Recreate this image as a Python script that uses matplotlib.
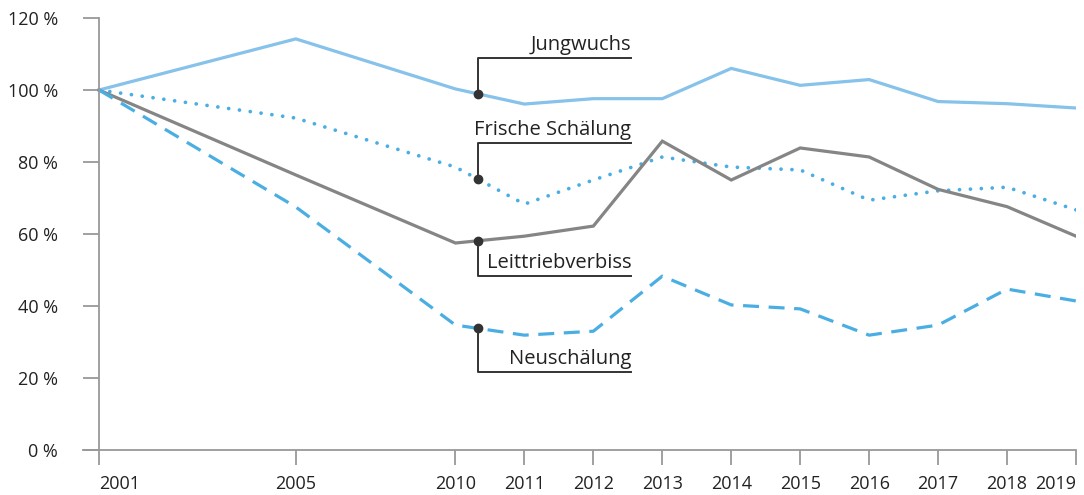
import numpy as np
import matplotlib
matplotlib.use("Agg")
import matplotlib.pyplot as plt

plt.rcParams['font.family'] = ['Open Sans', 'DejaVu Sans']

# data
years = ['2001', '2005', '2010', '2011', '2012', '2013', '2014', '2015', '2016', '2017', '2018', '2019']
# uneven spacing of the x axis, as in the original
xpos = [0, 2.855, 5.17, 6.17, 7.17, 8.17, 9.17, 10.17, 11.17, 12.17, 13.17, 14.17]

jungwuchs = [100, 114.2, 100.3, 96.1, 97.6, 97.6, 106.0, 101.3, 102.9, 96.8, 96.2, 95.0]
frische = [100, 92.2, 78.6, 68.3, 75.0, 81.4, 78.6, 77.8, 69.4, 72.0, 73.0, 66.7]
leittrieb = [100, 76.4, 57.5, 59.4, 62.2, 85.8, 75.0, 83.9, 81.4, 72.4, 67.6, 59.4]
neu = [100, 67.5, 34.7, 31.9, 33.0, 48.3, 40.3, 39.2, 31.9, 34.7, 44.7, 41.4]

labels = ['Jungwuchs', 'Frische Schälung', 'Leittriebverbiss', 'Neuschälung']
label_levels = [108.9, 85.3, 48.3, 21.7]

fig = plt.figure(figsize=(10.84, 4.95), dpi=100)
ax = fig.add_axes([83 / 1084, 0.0909, 993 / 1084, 0.8727])

lw = 2.3
ax.plot(xpos, jungwuchs, color='#86c2ea', lw=lw, solid_joinstyle='miter')
ax.plot(xpos, frische, color='#4baee3', lw=2.7, linestyle=(0, (0.01, 2.9)), dash_capstyle='round')
ax.plot(xpos, leittrieb, color='#858585', lw=lw, solid_joinstyle='miter')
ax.plot(xpos, neu, color='#4baee3', lw=lw, linestyle=(0, (5, 3)))

# callouts
xa = 5.49
xe = 7.72
for series, lab, lev in zip([jungwuchs, frische, leittrieb, neu], labels, label_levels):
    yd = np.interp(xa, xpos, series)
    ax.plot([xa, xa, xe], [yd, lev, lev], color='#333333', lw=1.4, zorder=4)
    ax.plot([xa], [yd], 'o', color='#333333', ms=6, zorder=5)
    ax.annotate(lab, (xe, lev), xytext=(0, 2), textcoords='offset points',
                ha='right', va='bottom', fontsize=14.5, color='#222222')

ax.set_xlim(-16 / 69, 14.17)
ax.set_ylim(0, 120)
ax.set_xticks(xpos)
ax.set_xticklabels(years)
ax.set_yticks(range(0, 121, 20))
ax.set_yticklabels([f'{v} %' for v in range(0, 121, 20)])

for s in ['top', 'right']:
    ax.spines[s].set_visible(False)
ax.spines['left'].set_position(('data', 0))
for s in ['left', 'bottom']:
    ax.spines[s].set_color('#999999')
    ax.spines[s].set_linewidth(1.3)

ax.tick_params(axis='y', length=11.5, width=1.3, color='#999999', labelsize=13, labelcolor='#222222', pad=18)
ax.tick_params(axis='x', length=11, width=1.3, color='#999999', labelsize=13, labelcolor='#222222', pad=7)
ax.get_xticklabels()[0].set_horizontalalignment('left')
ax.get_xticklabels()[-1].set_horizontalalignment('right')

fig.savefig('out.png', dpi=100)
